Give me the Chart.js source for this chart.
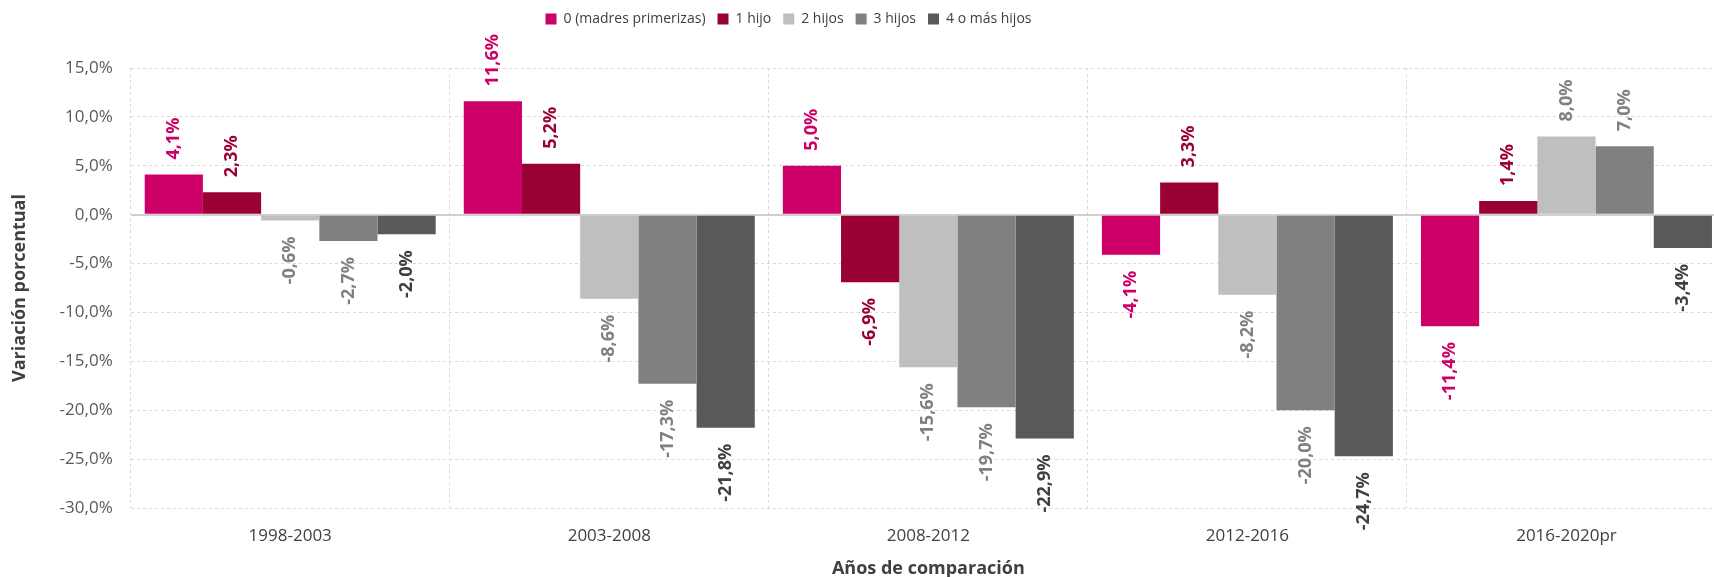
<!DOCTYPE html>
<html>
<head>
<meta charset="utf-8">
<script src="https://cdn.jsdelivr.net/npm/chart.js@4.4.1/dist/chart.umd.min.js"></script>
<style>
  html, body { margin: 0; padding: 0; background: #fff; }
  #wrap { width: 1714px; height: 577px; }
</style>
</head>
<body>
<div id="wrap"><canvas id="myChart"></canvas></div>
<script>
// datos: variación porcentual de nacimientos por orden de nacimiento
const periodos = ["1998-2003", "2003-2008", "2008-2012", "2012-2016", "2016-2020pr"];
const series = ["0 (madres primerizas)", "1 hijo", "2 hijos", "3 hijos", "4 o más hijos"];
const primerizas = [4.1, 11.6, 5.0, -4.1, -11.4];
const unHijo = [2.3, 5.2, -6.9, 3.3, 1.4];
const dosHijos = [-0.6, -8.6, -15.6, -8.2, 8.0];
const tresHijos = [-2.7, -17.3, -19.7, -20.0, 7.0];
const cuatroMas = [-2.0, -21.8, -22.9, -24.7, -3.4];
const yTicks = [15, 10, 5, 0, -5, -10, -15, -20, -25, -30];

const colores = ['#CC0066', '#990033', '#BFBFBF', '#808080', '#595959'];
const coloresEtiqueta = ['#CC0066', '#990033', '#808080', '#808080', '#404040'];
const FONT = "'Open Sans', 'Noto Sans', sans-serif";

const pct = v => v.toFixed(1).replace('.', ',') + '%';

// etiquetas rotadas sobre/bajo cada barra
const etiquetas = {
  id: 'etiquetas',
  afterDatasetsDraw(chart) {
    const ctx = chart.ctx;
    ctx.save();
    ctx.font = "bold 18px " + FONT;
    ctx.textBaseline = 'middle';
    chart.data.datasets.forEach((ds, i) => {
      const meta = chart.getDatasetMeta(i);
      meta.data.forEach((bar, j) => {
        const v = ds.data[j];
        ctx.save();
        ctx.fillStyle = coloresEtiqueta[i];
        if (v >= 0) {
          ctx.translate(bar.x, bar.y - 15);
          ctx.rotate(-Math.PI / 2);
          ctx.textAlign = 'left';
        } else {
          ctx.translate(bar.x, bar.y + 16);
          ctx.rotate(-Math.PI / 2);
          ctx.textAlign = 'right';
        }
        ctx.fillText(pct(v), 0, 0);
        ctx.restore();
      });
    });
    ctx.restore();
  }
};

// más espacio bajo la leyenda, leyenda algo a la izquierda,
// y el área del gráfico se corta por la derecha como en el original
const ajustarLayout = {
  id: 'ajustarLayout',
  beforeInit(chart) {
    const fit = chart.legend.fit;
    chart.legend.fit = function () {
      fit.call(this);
      this.height += 32;
    };
  },
  afterLayout(chart) {
    chart.legend.left -= 73;
    chart.legend.right -= 73;
    const x = chart.scales.x;
    const extra = chart.width + 12 - x.right;
    x.right += extra;
    x.width += extra;
    x.configure();
    chart.chartArea.right += extra;
    chart.chartArea.width += extra;
  }
};

const ctx = document.getElementById('myChart');
const valores = [primerizas, unHijo, dosHijos, tresHijos, cuatroMas];

new Chart(ctx, {
  type: 'bar',
  data: {
    labels: periodos,
    datasets: series.map((s, i) => ({
      label: s,
      data: valores[i],
      backgroundColor: colores[i],
      borderWidth: 0,
      categoryPercentage: 0.912,
      barPercentage: 1
    }))
  },
  options: {
    responsive: true,
    maintainAspectRatio: false,
    animation: false,
    layout: { padding: { left: 9, right: 0, top: 0, bottom: -3 } },
    plugins: {
      legend: {
        position: 'top',
        labels: {
          font: { family: FONT, size: 14 },
          color: '#404040',
          boxWidth: 11,
          boxHeight: 11,
          padding: 12
        }
      },
      tooltip: { enabled: false }
    },
    scales: {
      x: {
        grid: {
          color: '#D9D9D9',
          drawTicks: false,
          offset: true
        },
        border: { display: false, dash: [3, 3] },
        ticks: {
          font: { family: FONT, size: 17 },
          color: '#404040',
          padding: 18
        },
        title: {
          display: true,
          text: 'Años de comparación',
          font: { family: FONT, size: 18, weight: 'bold' },
          color: '#404040',
          padding: { top: -6, bottom: 0 }
        }
      },
      y: {
        min: -30,
        max: 15,
        afterBuildTicks(axis) {
          axis.ticks = yTicks.map(v => ({ value: v }));
        },
        grid: {
          color: c => c.tick && c.tick.value === 0 ? '#D0D0D0' : '#D9D9D9',
          lineWidth: c => c.tick && c.tick.value === 0 ? 2 : 1,
          drawTicks: false
        },
        border: {
          display: false,
          dash: c => c.tick && c.tick.value === 0 ? [] : [3, 3]
        },
        ticks: {
          font: { family: FONT, size: 17 },
          color: '#595959',
          padding: 18,
          callback: v => pct(v)
        },
        title: {
          display: true,
          text: 'Variación porcentual',
          font: { family: FONT, size: 18, weight: 'bold' },
          color: '#404040',
          padding: { top: 0, bottom: 11 }
        }
      }
    }
  },
  plugins: [etiquetas, ajustarLayout]
});
</script>
</body>
</html>
